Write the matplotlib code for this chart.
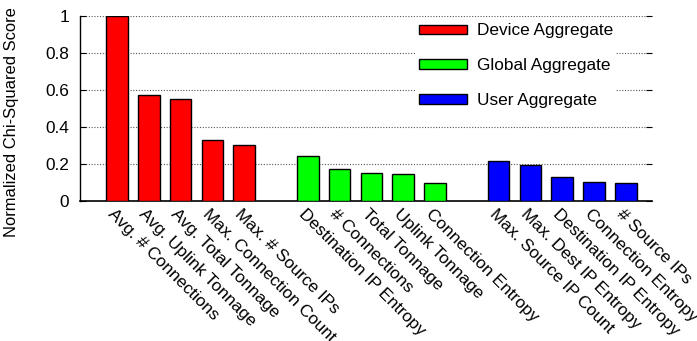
import matplotlib
matplotlib.use("Agg")
import matplotlib.pyplot as plt
import matplotlib.transforms as mtransforms

plt.rcParams['font.family'] = ['Liberation Sans', 'DejaVu Sans']
plt.rcParams['font.size'] = 12.4

# data
device_labels = ["Avg. # Connections", "Avg. Uplink Tonnage", "Avg. Total Tonnage",
                 "Max. Connection Count", "Max. # Source IPs"]
device_scores = [1.0, 0.571, 0.55, 0.328, 0.303]

global_labels = ["Destination IP Entropy", "# Connections", "Total Tonnage",
                 "Uplink Tonnage", "Connection Entropy"]
global_scores = [0.245, 0.171, 0.149, 0.144, 0.096]

user_labels = ["Max. Source IP Count", "Max. Dest IP Entropy", "Destination IP Entropy",
               "Connection Entropy", "# Source IPs"]
user_scores = [0.215, 0.195, 0.131, 0.104, 0.099]

groups = [("Device Aggregate", device_labels, device_scores, "#ff0000"),
          ("Global Aggregate", global_labels, global_scores, "#00ff00"),
          ("User Aggregate", user_labels, user_scores, "#0000ff")]

fig = plt.figure(figsize=(6.97, 3.41), dpi=100)
ax = fig.add_axes([80/697, 1-201/341, (652-80)/697, (201-16)/341])

xticks = []
xlabels = []
pos = 0
for name, labels, scores, color in groups:
    xs = list(range(pos, pos + len(scores)))
    ax.bar(xs, scores, width=0.68, color=color, edgecolor="black", linewidth=1.0,
           label=name, zorder=3)
    xticks += xs
    xlabels += labels
    pos += len(scores) + 1

ax.set_xlim(-1.16, 16.82)
ax.set_ylim(0, 1)
ax.set_yticks([0, 0.2, 0.4, 0.6, 0.8, 1.0])
ax.set_yticklabels(["0", "0.2", "0.4", "0.6", "0.8", "1"])
for y in [0.2, 0.4, 0.6, 0.8, 1.0]:
    ax.axhline(y, color="#555555", linestyle=(0, (1, 1.5)), linewidth=0.8, zorder=1)

# rotated category labels, drawn as text so they can be nudged left/down
ax.set_xticks(xticks)
ax.set_xticklabels([])
ax.tick_params(axis="x", length=0)
offset = mtransforms.ScaledTranslation(-5.0/72, -7.9/72, fig.dpi_scale_trans)
trans = ax.get_xaxis_transform() + offset
for x, lab in zip(xticks, xlabels):
    ax.text(x, 0, lab, transform=trans, rotation=-45, ha="left", va="center",
            rotation_mode="anchor", clip_on=False)

ax.tick_params(axis="y", direction="in", length=4, right=True, width=0.8, pad=8)

for side in ["top", "right"]:
    ax.spines[side].set_visible(False)
ax.spines["left"].set_linewidth(1.0)
ax.spines["bottom"].set_linewidth(1.2)

ax.set_ylabel("Normalized Chi-Squared Score", fontsize=11.9)
ax.yaxis.set_label_coords(19/697, 1-122/341, transform=fig.transFigure)

leg = ax.legend(loc="upper left", bbox_to_anchor=(416/697, 1-20/341),
                bbox_transform=fig.transFigure, borderaxespad=0, borderpad=0.2,
                handlelength=2.75, handleheight=0.47, handletextpad=0.58,
                labelspacing=1.15, fancybox=False, framealpha=1.0)
leg.get_frame().set_edgecolor("none")
leg.get_frame().set_facecolor("white")
leg.set_zorder(5)

fig.savefig("out.png", dpi=100)
